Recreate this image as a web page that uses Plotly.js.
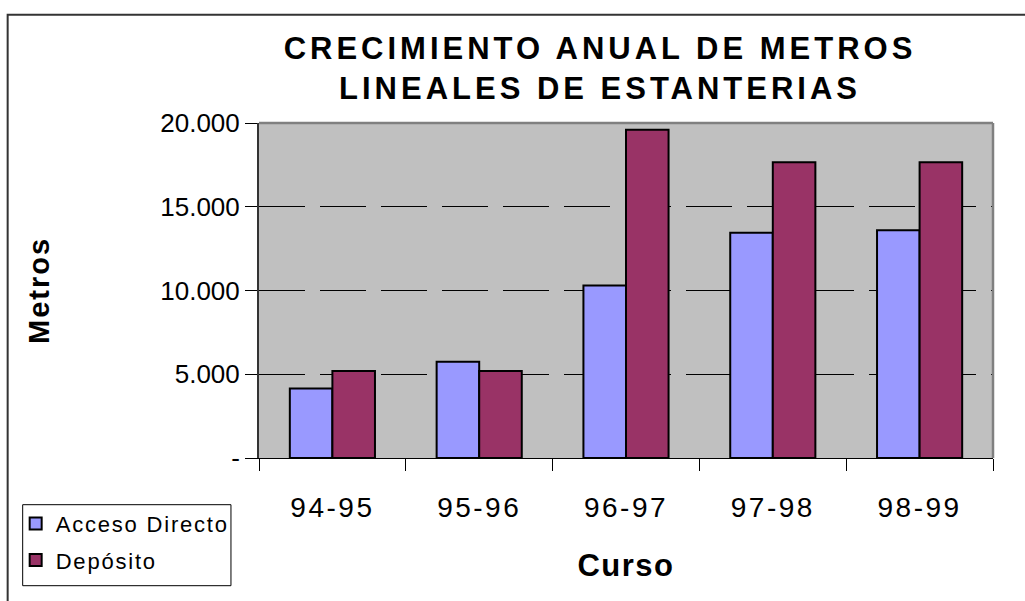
<!DOCTYPE html>
<html>
<head>
<meta charset="utf-8">
<script src="https://cdn.plot.ly/plotly-3.0.1.min.js"></script>
<style>
html,body{margin:0;padding:0;background:#fff;}
#chart{width:1025px;height:601px;}
.gtitle{letter-spacing:4px;}
.xtitle{letter-spacing:1.5px;}
.ytitle{letter-spacing:2px;}
.xtick text{letter-spacing:2.5px;}
.legendtext{letter-spacing:1.8px;}
</style>
</head>
<body>
<div id="chart"></div>
<script>
var categories = ['94-95', '95-96', '96-97', '97-98', '98-99'];
var accesoDirecto = [4150, 5750, 10300, 13450, 13600];
var deposito = [5200, 5200, 19600, 17650, 17650];
var yTickVals = [0, 5000, 10000, 15000, 20000];
var yTickText = ['-', '5.000', '10.000', '15.000', '20.000'];

var FONT = '"Liberation Sans", Arial, sans-serif';

var traces = [
  {type: 'bar', name: 'Acceso Directo', x: categories, y: accesoDirecto, legendgroup: 'a',
   marker: {color: '#9999FF', line: {color: '#000000', width: 2}}},
  {type: 'bar', name: 'Depósito', x: categories, y: deposito, legendgroup: 'b',
   marker: {color: '#993366', line: {color: '#000000', width: 2}}}
];

function px2x(p) { return (p - 259) / 733; }
function px2y(p) { return (458.3 - p) / 335; }

var layout = {
  width: 1025, height: 601,
  margin: {l: 259, r: 32, t: 123, b: 143},
  paper_bgcolor: '#ffffff',
  plot_bgcolor: '#C0C0C0',
  font: {family: FONT, color: '#000000'},
  barmode: 'group',
  bargap: 0.42,
  bargroupgap: 0,
  showlegend: true,
  title: {
    text: '<b>CRECIMIENTO ANUAL DE METROS<br>LINEALES DE ESTANTERIAS</b>',
    font: {family: FONT, size: 31, color: '#000000'},
    xref: 'container', yref: 'container',
    x: 0.5854, xanchor: 'center',
    y: 1 - 59/601, yanchor: 'top'
  },
  xaxis: {
    type: 'category',
    showgrid: false,
    zeroline: false,
    showline: true, linecolor: '#000000', linewidth: 1,
    ticks: 'outside', ticklen: 12, tickcolor: '#000000', tickwidth: 1,
    tickson: 'boundaries',
    ticklabelstandoff: 24,
    tickfont: {family: FONT, size: 28, color: '#000000'},
    title: {text: '<b>Curso</b>', font: {family: FONT, size: 31, color: '#000000'}, standoff: 32}
  },
  yaxis: {
    range: [0, 20000],
    tickmode: 'array', tickvals: yTickVals, ticktext: yTickText,
    showgrid: true, gridcolor: '#000000', gridwidth: 1, griddash: '46px,15px',
    zeroline: false,
    showline: true, linecolor: '#333333', linewidth: 2,
    ticks: 'outside', ticklen: 12, tickcolor: '#000000', tickwidth: 1,
    tickfont: {family: FONT, size: 26, color: '#000000'},
    title: {text: '<b>Metros</b>', font: {family: FONT, size: 29, color: '#000000'}, standoff: 102}
  },
  legend: {
    x: px2x(16), xanchor: 'left',
    y: px2y(503), yanchor: 'top',
    borderwidth: 0,
    bgcolor: 'rgba(0,0,0,0)',
    font: {family: FONT, size: 22, color: '#000000'},
    tracegroupgap: 5,
    itemwidth: 30
  },
  shapes: [
    {type: 'line', xref: 'paper', yref: 'paper', x0: 0, x1: 1, y0: 1, y1: 1,
     line: {color: '#808080', width: 2.5}, layer: 'above'},
    {type: 'line', xref: 'paper', yref: 'paper', x0: 1, x1: 1, y0: 0, y1: 1,
     line: {color: '#808080', width: 2.5}, layer: 'above'},
    {type: 'rect', xref: 'paper', yref: 'paper',
     x0: px2x(23), x1: px2x(231), y0: px2y(505), y1: px2y(586),
     line: {color: '#000000', width: 1}, fillcolor: 'rgba(0,0,0,0)', layer: 'above'},
    {type: 'rect', xref: 'paper', yref: 'paper',
     x0: px2x(8), x1: 1.6, y0: px2y(15), y1: -0.8,
     line: {color: '#333333', width: 2}, fillcolor: 'rgba(0,0,0,0)', layer: 'above'}
  ]
};

Plotly.newPlot('chart', traces, layout, {displayModeBar: false, staticPlot: true});
</script>
</body>
</html>
